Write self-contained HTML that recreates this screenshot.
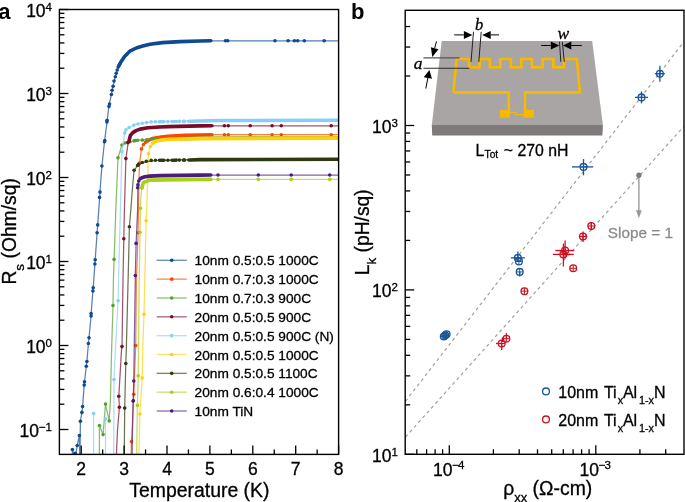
<!DOCTYPE html>
<html><head><meta charset="utf-8"><style>
html,body{margin:0;padding:0;background:#fff;width:685px;height:502px;overflow:hidden;font-family:"Liberation Sans",sans-serif;}
svg{display:block;will-change:transform;}
text{stroke:#000;stroke-width:0.3px;}
</style></head><body>
<svg width="685" height="502" viewBox="0 0 685 502" font-family="Liberation Sans, sans-serif">
<defs><clipPath id="ca"><rect x="59.40" y="9.50" width="279.20" height="444.90"/></clipPath>
<clipPath id="cb"><rect x="405.20" y="10.30" width="278.80" height="444.00"/></clipPath></defs>
<g clip-path="url(#ca)">
<polyline fill="none" stroke="#0d4a8f" stroke-opacity="0.7" stroke-width="1.25" stroke-linejoin="round" points="72.4,460.0 72.4,449.6 75.3,458.0 77.2,445.5 79.4,435.5 79.8,470.0 80.4,421.2 80.4,421.2 81.9,412.4 82.6,406.6 84.2,385.1 84.5,381.8 86.3,366.2 86.9,361.5 88.4,343.5 89.0,337.8 91.1,316.0 91.1,313.6 92.9,291.0 93.2,287.7 94.9,264.0 95.2,259.8 97.1,232.7 97.7,224.9 99.6,198.4 99.9,192.8 101.9,166.0 104.6,140.8 107.2,120.7 109.0,105.3 111.4,94.5 113.1,86.2 115.3,76.7 118.4,66.7 120.7,62.2 124.6,56.4 129.8,51.2 136.3,48.0 142.7,46.0 150.0,44.3 162.3,42.6 200.0,41.0 210.8,40.8 340.6,40.8"/>
<polyline fill="none" stroke="#0d4a8f" stroke-width="3.6" stroke-linecap="round" stroke-linejoin="round" points="118.4,66.7 120.7,62.2 124.6,56.4 129.8,51.2 136.3,48.0 142.7,46.0 150.0,44.3 162.3,42.6 180.0,41.6 200.0,41.0 210.8,40.8"/>
<circle cx="72.4" cy="449.6" r="1.8" fill="#0d4a8f"/>
<circle cx="75.3" cy="453.3" r="1.8" fill="#0d4a8f"/>
<circle cx="77.2" cy="445.5" r="1.8" fill="#0d4a8f"/>
<circle cx="79.4" cy="435.5" r="1.8" fill="#0d4a8f"/>
<circle cx="80.4" cy="421.2" r="1.8" fill="#0d4a8f"/>
<circle cx="81.9" cy="412.4" r="1.8" fill="#0d4a8f"/>
<circle cx="82.6" cy="406.6" r="1.8" fill="#0d4a8f"/>
<circle cx="84.2" cy="385.1" r="1.8" fill="#0d4a8f"/>
<circle cx="84.5" cy="381.8" r="1.8" fill="#0d4a8f"/>
<circle cx="86.3" cy="366.2" r="1.8" fill="#0d4a8f"/>
<circle cx="86.9" cy="361.5" r="1.8" fill="#0d4a8f"/>
<circle cx="88.4" cy="343.5" r="1.8" fill="#0d4a8f"/>
<circle cx="89.0" cy="337.8" r="1.8" fill="#0d4a8f"/>
<circle cx="91.1" cy="316.0" r="1.8" fill="#0d4a8f"/>
<circle cx="91.1" cy="313.6" r="1.8" fill="#0d4a8f"/>
<circle cx="92.9" cy="291.0" r="1.8" fill="#0d4a8f"/>
<circle cx="93.2" cy="287.7" r="1.8" fill="#0d4a8f"/>
<circle cx="94.9" cy="264.0" r="1.8" fill="#0d4a8f"/>
<circle cx="95.2" cy="259.8" r="1.8" fill="#0d4a8f"/>
<circle cx="97.1" cy="232.7" r="1.8" fill="#0d4a8f"/>
<circle cx="97.7" cy="224.9" r="1.8" fill="#0d4a8f"/>
<circle cx="99.5" cy="197.4" r="1.8" fill="#0d4a8f"/>
<circle cx="100.0" cy="192.1" r="1.8" fill="#0d4a8f"/>
<circle cx="101.9" cy="166.0" r="1.8" fill="#0d4a8f"/>
<circle cx="104.5" cy="141.7" r="1.8" fill="#0d4a8f"/>
<circle cx="104.8" cy="140.5" r="1.8" fill="#0d4a8f"/>
<circle cx="106.9" cy="121.9" r="1.8" fill="#0d4a8f"/>
<circle cx="107.1" cy="120.2" r="1.8" fill="#0d4a8f"/>
<circle cx="109.0" cy="106.4" r="1.8" fill="#0d4a8f"/>
<circle cx="109.5" cy="104.0" r="1.8" fill="#0d4a8f"/>
<circle cx="111.4" cy="94.5" r="1.8" fill="#0d4a8f"/>
<circle cx="112.1" cy="90.2" r="1.8" fill="#0d4a8f"/>
<circle cx="113.1" cy="86.2" r="1.8" fill="#0d4a8f"/>
<circle cx="114.0" cy="81.0" r="1.8" fill="#0d4a8f"/>
<circle cx="115.3" cy="76.7" r="1.8" fill="#0d4a8f"/>
<circle cx="116.2" cy="73.2" r="1.8" fill="#0d4a8f"/>
<circle cx="117.2" cy="70.0" r="1.8" fill="#0d4a8f"/>
<circle cx="118.4" cy="66.7" r="1.8" fill="#0d4a8f"/>
<circle cx="119.5" cy="64.3" r="1.8" fill="#0d4a8f"/>
<circle cx="225.5" cy="40.8" r="1.8" fill="#0d4a8f"/>
<circle cx="227.7" cy="40.8" r="1.8" fill="#0d4a8f"/>
<circle cx="275.0" cy="40.8" r="1.8" fill="#0d4a8f"/>
<circle cx="288.1" cy="40.8" r="1.8" fill="#0d4a8f"/>
<circle cx="294.4" cy="40.8" r="1.8" fill="#0d4a8f"/>
<circle cx="297.7" cy="40.8" r="1.8" fill="#0d4a8f"/>
<circle cx="304.3" cy="40.8" r="1.8" fill="#0d4a8f"/>
<circle cx="324.2" cy="40.8" r="1.8" fill="#0d4a8f"/>
<polyline fill="none" stroke="#ff4500" stroke-opacity="0.7" stroke-width="1.25" stroke-linejoin="round" points="131.0,460.0 131.5,441.6 133.8,394.3 135.7,345.6 136.4,280.0 138.1,232.8 139.1,175.0 139.6,163.1 141.5,148.9 143.5,144.5 145.5,142.1 148.7,140.1 152.7,138.5 156.7,137.7 161.5,137.0 168.0,136.2 200.0,135.0 211.9,134.7 340.6,134.7"/>
<polyline fill="none" stroke="#ff4500" stroke-width="3.6" stroke-linecap="round" stroke-linejoin="round" points="145.5,142.1 148.7,140.1 152.7,138.5 156.7,137.7 161.5,137.0 168.0,136.2 185.0,135.4 200.0,135.0 211.9,134.7"/>
<circle cx="131.5" cy="441.6" r="1.8" fill="#ff4500"/>
<circle cx="133.8" cy="394.3" r="1.8" fill="#ff4500"/>
<circle cx="135.7" cy="345.6" r="1.8" fill="#ff4500"/>
<circle cx="138.1" cy="232.8" r="1.8" fill="#ff4500"/>
<circle cx="139.6" cy="163.1" r="1.8" fill="#ff4500"/>
<circle cx="141.5" cy="148.9" r="1.8" fill="#ff4500"/>
<circle cx="143.5" cy="144.5" r="1.8" fill="#ff4500"/>
<circle cx="224.4" cy="134.7" r="1.8" fill="#ff4500"/>
<circle cx="228.3" cy="134.7" r="1.8" fill="#ff4500"/>
<circle cx="250.2" cy="134.7" r="1.8" fill="#ff4500"/>
<circle cx="272.1" cy="134.7" r="1.8" fill="#ff4500"/>
<circle cx="281.3" cy="134.7" r="1.8" fill="#ff4500"/>
<circle cx="331.2" cy="134.7" r="1.8" fill="#ff4500"/>
<polyline fill="none" stroke="#55a02a" stroke-opacity="0.7" stroke-width="1.25" stroke-linejoin="round" points="99.4,460.0 99.4,425.5 103.1,434.6 105.5,404.1 109.2,420.9 110.4,400.0 111.6,350.0 113.0,305.5 113.4,280.0 114.1,259.4 115.8,210.0 118.0,157.8 121.9,145.0 125.1,143.0 129.9,141.9 135.5,140.7 141.9,139.9 149.8,139.3 157.8,138.8 200.0,138.5 340.6,138.5"/>
<polyline fill="none" stroke="#55a02a" stroke-width="3.6" stroke-linecap="round" stroke-linejoin="round" points="182.0,138.6 200.0,138.3 260.0,138.1 340.6,138.0"/>
<circle cx="99.4" cy="425.5" r="1.8" fill="#55a02a"/>
<circle cx="103.1" cy="434.6" r="1.8" fill="#55a02a"/>
<circle cx="105.5" cy="404.1" r="1.8" fill="#55a02a"/>
<circle cx="109.2" cy="420.9" r="1.8" fill="#55a02a"/>
<circle cx="113.0" cy="305.5" r="1.8" fill="#55a02a"/>
<circle cx="114.1" cy="259.4" r="1.8" fill="#55a02a"/>
<circle cx="118.0" cy="157.8" r="1.8" fill="#55a02a"/>
<circle cx="121.9" cy="145.0" r="1.8" fill="#55a02a"/>
<circle cx="125.1" cy="143.0" r="1.8" fill="#55a02a"/>
<circle cx="130.0" cy="141.7" r="1.8" fill="#55a02a"/>
<circle cx="134.0" cy="140.9" r="1.8" fill="#55a02a"/>
<circle cx="135.6" cy="140.5" r="1.8" fill="#55a02a"/>
<circle cx="137.6" cy="140.3" r="1.8" fill="#55a02a"/>
<circle cx="142.3" cy="140.1" r="1.8" fill="#55a02a"/>
<circle cx="146.7" cy="139.7" r="1.8" fill="#55a02a"/>
<circle cx="151.1" cy="139.3" r="1.8" fill="#55a02a"/>
<circle cx="155.5" cy="139.2" r="1.8" fill="#55a02a"/>
<circle cx="160.4" cy="138.9" r="1.8" fill="#55a02a"/>
<circle cx="165.5" cy="138.8" r="1.8" fill="#55a02a"/>
<circle cx="170.5" cy="138.7" r="1.8" fill="#55a02a"/>
<circle cx="175.5" cy="138.6" r="1.8" fill="#55a02a"/>
<circle cx="180.5" cy="138.6" r="1.8" fill="#55a02a"/>
<polyline fill="none" stroke="#7a0a2c" stroke-opacity="0.7" stroke-width="1.25" stroke-linejoin="round" points="116.2,460.0 117.5,430.0 119.4,407.3 118.8,396.2 121.5,350.0 122.0,346.6 123.0,280.0 123.8,238.7 124.4,210.0 125.9,158.6 128.3,141.9 129.9,136.3 133.9,131.5 141.9,128.3 157.8,126.4 200.0,125.8 211.9,125.8 340.6,125.8"/>
<polyline fill="none" stroke="#7a0a2c" stroke-width="3.6" stroke-linecap="round" stroke-linejoin="round" points="127.8,142.5 128.8,141.7 130.4,135.4 132.8,132.6 136.0,130.6 140.0,129.1 147.9,127.8 159.9,127.0 168.0,126.6 200.0,125.9 211.9,125.8"/>
<circle cx="119.4" cy="407.3" r="1.8" fill="#7a0a2c"/>
<circle cx="118.8" cy="396.2" r="1.8" fill="#7a0a2c"/>
<circle cx="122.0" cy="346.6" r="1.8" fill="#7a0a2c"/>
<circle cx="123.8" cy="238.7" r="1.8" fill="#7a0a2c"/>
<circle cx="125.9" cy="158.6" r="1.8" fill="#7a0a2c"/>
<circle cx="224.4" cy="125.8" r="1.8" fill="#7a0a2c"/>
<circle cx="228.3" cy="125.8" r="1.8" fill="#7a0a2c"/>
<circle cx="250.2" cy="125.8" r="1.8" fill="#7a0a2c"/>
<circle cx="272.1" cy="125.8" r="1.8" fill="#7a0a2c"/>
<circle cx="281.3" cy="125.8" r="1.8" fill="#7a0a2c"/>
<circle cx="331.2" cy="125.8" r="1.8" fill="#7a0a2c"/>
<polyline fill="none" stroke="#87cefa" stroke-opacity="0.7" stroke-width="1.25" stroke-linejoin="round" points="93.6,460.0 93.6,413.6 93.6,460.0 105.5,460.0 105.5,418.7 105.5,460.0 113.7,460.0 114.0,379.5 115.4,350.0 118.1,300.7 118.5,280.0 120.4,210.0 121.9,151.7 124.7,133.1 125.9,129.9 129.1,127.5 133.9,125.1 137.9,124.0 142.7,123.1 151.4,121.9 162.6,121.5 181.7,121.2 200.0,120.8 340.6,120.4"/>
<polyline fill="none" stroke="#87cefa" stroke-width="3.6" stroke-linecap="round" stroke-linejoin="round" points="190.5,121.3 220.0,120.5 340.6,120.3"/>
<circle cx="93.6" cy="413.6" r="1.8" fill="#87cefa"/>
<circle cx="105.5" cy="418.7" r="1.8" fill="#87cefa"/>
<circle cx="114.0" cy="379.5" r="1.8" fill="#87cefa"/>
<circle cx="118.1" cy="300.7" r="1.8" fill="#87cefa"/>
<circle cx="121.9" cy="151.7" r="1.8" fill="#87cefa"/>
<circle cx="124.7" cy="133.1" r="1.8" fill="#87cefa"/>
<circle cx="125.9" cy="129.9" r="1.8" fill="#87cefa"/>
<circle cx="129.1" cy="127.5" r="1.8" fill="#87cefa"/>
<circle cx="133.9" cy="125.1" r="1.8" fill="#87cefa"/>
<circle cx="137.9" cy="124.0" r="1.8" fill="#87cefa"/>
<circle cx="142.2" cy="123.3" r="1.8" fill="#87cefa"/>
<circle cx="146.6" cy="122.6" r="1.8" fill="#87cefa"/>
<circle cx="151.2" cy="121.9" r="1.8" fill="#87cefa"/>
<circle cx="155.4" cy="121.8" r="1.8" fill="#87cefa"/>
<circle cx="159.5" cy="121.8" r="1.8" fill="#87cefa"/>
<circle cx="161.0" cy="121.7" r="1.8" fill="#87cefa"/>
<circle cx="162.5" cy="121.7" r="1.8" fill="#87cefa"/>
<circle cx="163.9" cy="121.7" r="1.8" fill="#87cefa"/>
<circle cx="167.9" cy="121.6" r="1.8" fill="#87cefa"/>
<circle cx="172.1" cy="121.6" r="1.8" fill="#87cefa"/>
<circle cx="173.5" cy="121.5" r="1.8" fill="#87cefa"/>
<circle cx="175.0" cy="121.5" r="1.8" fill="#87cefa"/>
<circle cx="176.3" cy="121.5" r="1.8" fill="#87cefa"/>
<circle cx="179.3" cy="121.4" r="1.8" fill="#87cefa"/>
<circle cx="183.5" cy="121.4" r="1.8" fill="#87cefa"/>
<circle cx="184.6" cy="121.4" r="1.8" fill="#87cefa"/>
<circle cx="188.8" cy="121.3" r="1.8" fill="#87cefa"/>
<polyline fill="none" stroke="#fdd20a" stroke-opacity="0.7" stroke-width="1.25" stroke-linejoin="round" points="138.8,460.0 139.8,414.0 142.2,377.9 142.7,350.0 144.0,314.2 144.8,280.0 146.1,220.8 146.7,210.0 147.8,175.0 148.3,154.0 150.4,146.4 153.0,143.5 157.8,141.1 165.7,139.9 200.0,138.7 340.6,138.1"/>
<polyline fill="none" stroke="#fdd20a" stroke-width="3.6" stroke-linecap="round" stroke-linejoin="round" points="152.7,143.3 155.9,141.3 161.5,140.1 168.0,139.3 200.0,138.6 340.6,138.1"/>
<circle cx="139.8" cy="414.0" r="1.8" fill="#fdd20a"/>
<circle cx="142.2" cy="377.9" r="1.8" fill="#fdd20a"/>
<circle cx="144.0" cy="314.2" r="1.8" fill="#fdd20a"/>
<circle cx="146.1" cy="220.8" r="1.8" fill="#fdd20a"/>
<circle cx="148.6" cy="153.7" r="1.8" fill="#fdd20a"/>
<circle cx="150.3" cy="146.5" r="1.8" fill="#fdd20a"/>
<polyline fill="none" stroke="#2c3a0e" stroke-opacity="0.7" stroke-width="1.25" stroke-linejoin="round" points="124.2,460.0 124.7,408.1 125.8,363.5 126.3,350.0 128.1,280.0 129.4,226.7 130.8,210.0 132.3,190.0 134.1,170.3 137.6,165.5 141.6,163.1 148.2,161.3 157.8,160.3 200.0,159.4 340.6,159.3"/>
<polyline fill="none" stroke="#2c3a0e" stroke-width="3.6" stroke-linecap="round" stroke-linejoin="round" points="190.5,160.0 200.0,159.6 340.6,159.3"/>
<circle cx="124.7" cy="408.1" r="1.8" fill="#2c3a0e"/>
<circle cx="125.8" cy="363.5" r="1.8" fill="#2c3a0e"/>
<circle cx="129.4" cy="226.7" r="1.8" fill="#2c3a0e"/>
<circle cx="134.1" cy="170.3" r="1.8" fill="#2c3a0e"/>
<circle cx="137.6" cy="165.5" r="1.8" fill="#2c3a0e"/>
<circle cx="138.4" cy="164.4" r="1.8" fill="#2c3a0e"/>
<circle cx="142.3" cy="162.5" r="1.8" fill="#2c3a0e"/>
<circle cx="146.3" cy="161.3" r="1.8" fill="#2c3a0e"/>
<circle cx="151.2" cy="160.4" r="1.8" fill="#2c3a0e"/>
<circle cx="155.4" cy="160.3" r="1.8" fill="#2c3a0e"/>
<circle cx="159.5" cy="160.3" r="1.8" fill="#2c3a0e"/>
<circle cx="161.0" cy="160.3" r="1.8" fill="#2c3a0e"/>
<circle cx="162.5" cy="160.3" r="1.8" fill="#2c3a0e"/>
<circle cx="163.9" cy="160.3" r="1.8" fill="#2c3a0e"/>
<circle cx="167.9" cy="160.2" r="1.8" fill="#2c3a0e"/>
<circle cx="172.1" cy="160.2" r="1.8" fill="#2c3a0e"/>
<circle cx="173.5" cy="160.2" r="1.8" fill="#2c3a0e"/>
<circle cx="175.0" cy="160.2" r="1.8" fill="#2c3a0e"/>
<circle cx="176.3" cy="160.1" r="1.8" fill="#2c3a0e"/>
<circle cx="179.3" cy="160.1" r="1.8" fill="#2c3a0e"/>
<circle cx="183.5" cy="160.1" r="1.8" fill="#2c3a0e"/>
<circle cx="184.6" cy="160.1" r="1.8" fill="#2c3a0e"/>
<circle cx="188.8" cy="160.0" r="1.8" fill="#2c3a0e"/>
<polyline fill="none" stroke="#a8d018" stroke-opacity="0.7" stroke-width="1.25" stroke-linejoin="round" points="136.6,460.0 137.4,405.4 138.2,375.8 138.4,360.0 139.2,280.0 140.0,232.3 140.4,208.2 141.1,195.0 141.9,188.0 143.4,182.5 149.8,180.1 200.0,179.4 210.8,179.4 340.6,179.4"/>
<polyline fill="none" stroke="#a8d018" stroke-width="3.6" stroke-linecap="round" stroke-linejoin="round" points="141.9,188.0 143.4,182.5 149.8,180.1 200.0,179.4 210.8,179.4"/>
<circle cx="137.4" cy="405.4" r="1.8" fill="#a8d018"/>
<circle cx="138.2" cy="375.8" r="1.8" fill="#a8d018"/>
<circle cx="140.0" cy="232.3" r="1.8" fill="#a8d018"/>
<circle cx="140.4" cy="208.2" r="1.8" fill="#a8d018"/>
<circle cx="141.9" cy="188.0" r="1.8" fill="#a8d018"/>
<circle cx="218.0" cy="179.4" r="1.8" fill="#a8d018"/>
<circle cx="258.3" cy="179.4" r="1.8" fill="#a8d018"/>
<circle cx="291.2" cy="179.4" r="1.8" fill="#a8d018"/>
<circle cx="329.7" cy="179.4" r="1.8" fill="#a8d018"/>
<polyline fill="none" stroke="#4a1c7c" stroke-opacity="0.7" stroke-width="1.25" stroke-linejoin="round" points="132.0,460.0 133.1,401.0 133.8,381.0 134.2,350.0 135.3,280.0 135.3,275.6 136.1,243.4 137.6,210.0 137.9,184.9 138.7,181.0 141.9,177.7 149.8,176.1 200.0,175.0 210.8,175.0 340.6,175.0"/>
<polyline fill="none" stroke="#4a1c7c" stroke-width="3.6" stroke-linecap="round" stroke-linejoin="round" points="140.2,178.8 141.9,177.7 145.0,176.7 149.8,176.1 160.0,175.6 200.0,175.1 210.8,175.0"/>
<circle cx="133.1" cy="401.0" r="1.8" fill="#4a1c7c"/>
<circle cx="133.4" cy="400.7" r="1.8" fill="#4a1c7c"/>
<circle cx="133.8" cy="381.0" r="1.8" fill="#4a1c7c"/>
<circle cx="135.3" cy="275.6" r="1.8" fill="#4a1c7c"/>
<circle cx="136.1" cy="243.4" r="1.8" fill="#4a1c7c"/>
<circle cx="137.6" cy="187.8" r="1.8" fill="#4a1c7c"/>
<circle cx="137.9" cy="184.9" r="1.8" fill="#4a1c7c"/>
<circle cx="138.7" cy="181.0" r="1.8" fill="#4a1c7c"/>
<circle cx="218.0" cy="175.0" r="1.8" fill="#4a1c7c"/>
<circle cx="258.3" cy="175.0" r="1.8" fill="#4a1c7c"/>
<circle cx="291.2" cy="175.0" r="1.8" fill="#4a1c7c"/>
<circle cx="329.7" cy="175.0" r="1.8" fill="#4a1c7c"/>
</g>
<rect x="59.40" y="9.50" width="279.20" height="444.90" fill="none" stroke="#000" stroke-width="1.4"/>
<line x1="81.20" y1="454.40" x2="81.20" y2="445.40" stroke="#000" stroke-width="1.3" />
<text x="81.20" y="474.90" font-size="17.5" text-anchor="middle" fill="#000" >2</text>
<line x1="124.10" y1="454.40" x2="124.10" y2="445.40" stroke="#000" stroke-width="1.3" />
<text x="124.10" y="474.90" font-size="17.5" text-anchor="middle" fill="#000" >3</text>
<line x1="167.00" y1="454.40" x2="167.00" y2="445.40" stroke="#000" stroke-width="1.3" />
<text x="167.00" y="474.90" font-size="17.5" text-anchor="middle" fill="#000" >4</text>
<line x1="209.90" y1="454.40" x2="209.90" y2="445.40" stroke="#000" stroke-width="1.3" />
<text x="209.90" y="474.90" font-size="17.5" text-anchor="middle" fill="#000" >5</text>
<line x1="252.80" y1="454.40" x2="252.80" y2="445.40" stroke="#000" stroke-width="1.3" />
<text x="252.80" y="474.90" font-size="17.5" text-anchor="middle" fill="#000" >6</text>
<line x1="295.70" y1="454.40" x2="295.70" y2="445.40" stroke="#000" stroke-width="1.3" />
<text x="295.70" y="474.90" font-size="17.5" text-anchor="middle" fill="#000" >7</text>
<line x1="338.60" y1="454.40" x2="338.60" y2="445.40" stroke="#000" stroke-width="1.3" />
<text x="338.60" y="474.90" font-size="17.5" text-anchor="middle" fill="#000" >8</text>
<line x1="102.65" y1="454.40" x2="102.65" y2="449.40" stroke="#000" stroke-width="1.3" />
<line x1="145.55" y1="454.40" x2="145.55" y2="449.40" stroke="#000" stroke-width="1.3" />
<line x1="188.45" y1="454.40" x2="188.45" y2="449.40" stroke="#000" stroke-width="1.3" />
<line x1="231.35" y1="454.40" x2="231.35" y2="449.40" stroke="#000" stroke-width="1.3" />
<line x1="274.25" y1="454.40" x2="274.25" y2="449.40" stroke="#000" stroke-width="1.3" />
<line x1="317.15" y1="454.40" x2="317.15" y2="449.40" stroke="#000" stroke-width="1.3" />
<line x1="59.40" y1="429.50" x2="68.40" y2="429.50" stroke="#000" stroke-width="1.3" />
<line x1="59.40" y1="404.21" x2="64.40" y2="404.21" stroke="#000" stroke-width="1.3" />
<line x1="59.40" y1="389.42" x2="64.40" y2="389.42" stroke="#000" stroke-width="1.3" />
<line x1="59.40" y1="378.93" x2="64.40" y2="378.93" stroke="#000" stroke-width="1.3" />
<line x1="59.40" y1="370.79" x2="64.40" y2="370.79" stroke="#000" stroke-width="1.3" />
<line x1="59.40" y1="364.14" x2="64.40" y2="364.14" stroke="#000" stroke-width="1.3" />
<line x1="59.40" y1="358.51" x2="64.40" y2="358.51" stroke="#000" stroke-width="1.3" />
<line x1="59.40" y1="353.64" x2="64.40" y2="353.64" stroke="#000" stroke-width="1.3" />
<line x1="59.40" y1="349.34" x2="64.40" y2="349.34" stroke="#000" stroke-width="1.3" />
<line x1="59.40" y1="345.50" x2="68.40" y2="345.50" stroke="#000" stroke-width="1.3" />
<line x1="59.40" y1="320.21" x2="64.40" y2="320.21" stroke="#000" stroke-width="1.3" />
<line x1="59.40" y1="305.42" x2="64.40" y2="305.42" stroke="#000" stroke-width="1.3" />
<line x1="59.40" y1="294.93" x2="64.40" y2="294.93" stroke="#000" stroke-width="1.3" />
<line x1="59.40" y1="286.79" x2="64.40" y2="286.79" stroke="#000" stroke-width="1.3" />
<line x1="59.40" y1="280.14" x2="64.40" y2="280.14" stroke="#000" stroke-width="1.3" />
<line x1="59.40" y1="274.51" x2="64.40" y2="274.51" stroke="#000" stroke-width="1.3" />
<line x1="59.40" y1="269.64" x2="64.40" y2="269.64" stroke="#000" stroke-width="1.3" />
<line x1="59.40" y1="265.34" x2="64.40" y2="265.34" stroke="#000" stroke-width="1.3" />
<line x1="59.40" y1="261.50" x2="68.40" y2="261.50" stroke="#000" stroke-width="1.3" />
<line x1="59.40" y1="236.21" x2="64.40" y2="236.21" stroke="#000" stroke-width="1.3" />
<line x1="59.40" y1="221.42" x2="64.40" y2="221.42" stroke="#000" stroke-width="1.3" />
<line x1="59.40" y1="210.93" x2="64.40" y2="210.93" stroke="#000" stroke-width="1.3" />
<line x1="59.40" y1="202.79" x2="64.40" y2="202.79" stroke="#000" stroke-width="1.3" />
<line x1="59.40" y1="196.14" x2="64.40" y2="196.14" stroke="#000" stroke-width="1.3" />
<line x1="59.40" y1="190.51" x2="64.40" y2="190.51" stroke="#000" stroke-width="1.3" />
<line x1="59.40" y1="185.64" x2="64.40" y2="185.64" stroke="#000" stroke-width="1.3" />
<line x1="59.40" y1="181.34" x2="64.40" y2="181.34" stroke="#000" stroke-width="1.3" />
<line x1="59.40" y1="177.50" x2="68.40" y2="177.50" stroke="#000" stroke-width="1.3" />
<line x1="59.40" y1="152.21" x2="64.40" y2="152.21" stroke="#000" stroke-width="1.3" />
<line x1="59.40" y1="137.42" x2="64.40" y2="137.42" stroke="#000" stroke-width="1.3" />
<line x1="59.40" y1="126.93" x2="64.40" y2="126.93" stroke="#000" stroke-width="1.3" />
<line x1="59.40" y1="118.79" x2="64.40" y2="118.79" stroke="#000" stroke-width="1.3" />
<line x1="59.40" y1="112.14" x2="64.40" y2="112.14" stroke="#000" stroke-width="1.3" />
<line x1="59.40" y1="106.51" x2="64.40" y2="106.51" stroke="#000" stroke-width="1.3" />
<line x1="59.40" y1="101.64" x2="64.40" y2="101.64" stroke="#000" stroke-width="1.3" />
<line x1="59.40" y1="97.34" x2="64.40" y2="97.34" stroke="#000" stroke-width="1.3" />
<line x1="59.40" y1="93.50" x2="68.40" y2="93.50" stroke="#000" stroke-width="1.3" />
<line x1="59.40" y1="68.21" x2="64.40" y2="68.21" stroke="#000" stroke-width="1.3" />
<line x1="59.40" y1="53.42" x2="64.40" y2="53.42" stroke="#000" stroke-width="1.3" />
<line x1="59.40" y1="42.93" x2="64.40" y2="42.93" stroke="#000" stroke-width="1.3" />
<line x1="59.40" y1="34.79" x2="64.40" y2="34.79" stroke="#000" stroke-width="1.3" />
<line x1="59.40" y1="28.14" x2="64.40" y2="28.14" stroke="#000" stroke-width="1.3" />
<line x1="59.40" y1="22.51" x2="64.40" y2="22.51" stroke="#000" stroke-width="1.3" />
<line x1="59.40" y1="17.64" x2="64.40" y2="17.64" stroke="#000" stroke-width="1.3" />
<line x1="59.40" y1="13.34" x2="64.40" y2="13.34" stroke="#000" stroke-width="1.3" />
<line x1="59.40" y1="9.50" x2="68.40" y2="9.50" stroke="#000" stroke-width="1.3" />
<text x="52.0" y="436.60" font-size="17.5" text-anchor="end">10<tspan dy="-5.9" font-size="11.5">−1</tspan></text>
<text x="52.0" y="352.60" font-size="17.5" text-anchor="end">10<tspan dy="-5.9" font-size="11.5">0</tspan></text>
<text x="52.0" y="268.60" font-size="17.5" text-anchor="end">10<tspan dy="-5.9" font-size="11.5">1</tspan></text>
<text x="52.0" y="184.60" font-size="17.5" text-anchor="end">10<tspan dy="-5.9" font-size="11.5">2</tspan></text>
<text x="52.0" y="100.60" font-size="17.5" text-anchor="end">10<tspan dy="-5.9" font-size="11.5">3</tspan></text>
<text x="52.0" y="16.60" font-size="17.5" text-anchor="end">10<tspan dy="-5.9" font-size="11.5">4</tspan></text>
<text x="199.40" y="496.80" font-size="19.4" text-anchor="middle" fill="#000" >Temperature (K)</text>
<text transform="translate(16.2,231.4) rotate(-90)" font-size="19.3" text-anchor="middle">R<tspan dy="7.5" font-size="13.5">s</tspan><tspan dy="-7.5"> (Ohm/sq)</tspan></text>
<text x="-1.8" y="19.2" font-size="22" font-weight="bold" style="stroke:none">a</text>
<line x1="156.6" y1="260.30" x2="186.8" y2="260.30" stroke="#0d4a8f" stroke-opacity="0.6" stroke-width="1.4"/>
<circle cx="171.7" cy="260.30" r="1.8" fill="#0d4a8f"/>
<text x="194.60" y="265.30" font-size="13.7" text-anchor="start" fill="#000" >10nm 0.5:0.5 1000C</text>
<line x1="156.6" y1="279.14" x2="186.8" y2="279.14" stroke="#ff4500" stroke-opacity="0.6" stroke-width="1.4"/>
<circle cx="171.7" cy="279.14" r="1.8" fill="#ff4500"/>
<text x="194.60" y="284.14" font-size="13.7" text-anchor="start" fill="#000" >10nm 0.7:0.3 1000C</text>
<line x1="156.6" y1="297.98" x2="186.8" y2="297.98" stroke="#55a02a" stroke-opacity="0.6" stroke-width="1.4"/>
<circle cx="171.7" cy="297.98" r="1.8" fill="#55a02a"/>
<text x="194.60" y="302.98" font-size="13.7" text-anchor="start" fill="#000" >10nm 0.7:0.3 900C</text>
<line x1="156.6" y1="316.82" x2="186.8" y2="316.82" stroke="#7a0a2c" stroke-opacity="0.6" stroke-width="1.4"/>
<circle cx="171.7" cy="316.82" r="1.8" fill="#7a0a2c"/>
<text x="194.60" y="321.82" font-size="13.7" text-anchor="start" fill="#000" >20nm 0.5:0.5 900C</text>
<line x1="156.6" y1="335.66" x2="186.8" y2="335.66" stroke="#87cefa" stroke-opacity="0.6" stroke-width="1.4"/>
<circle cx="171.7" cy="335.66" r="1.8" fill="#87cefa"/>
<text x="194.60" y="340.66" font-size="13.7" text-anchor="start" fill="#000" >20nm 0.5:0.5 900C (N)</text>
<line x1="156.6" y1="354.50" x2="186.8" y2="354.50" stroke="#fdd20a" stroke-opacity="0.6" stroke-width="1.4"/>
<circle cx="171.7" cy="354.50" r="1.8" fill="#fdd20a"/>
<text x="194.60" y="359.50" font-size="13.7" text-anchor="start" fill="#000" >20nm 0.5:0.5 1000C</text>
<line x1="156.6" y1="373.34" x2="186.8" y2="373.34" stroke="#2c3a0e" stroke-opacity="0.6" stroke-width="1.4"/>
<circle cx="171.7" cy="373.34" r="1.8" fill="#2c3a0e"/>
<text x="194.60" y="378.34" font-size="13.7" text-anchor="start" fill="#000" >20nm 0.5:0.5 1100C</text>
<line x1="156.6" y1="392.18" x2="186.8" y2="392.18" stroke="#a8d018" stroke-opacity="0.6" stroke-width="1.4"/>
<circle cx="171.7" cy="392.18" r="1.8" fill="#a8d018"/>
<text x="194.60" y="397.18" font-size="13.7" text-anchor="start" fill="#000" >20nm 0.6:0.4 1000C</text>
<line x1="156.6" y1="411.02" x2="186.8" y2="411.02" stroke="#4a1c7c" stroke-opacity="0.6" stroke-width="1.4"/>
<circle cx="171.7" cy="411.02" r="1.8" fill="#4a1c7c"/>
<text x="194.60" y="416.02" font-size="13.7" text-anchor="start" fill="#000" >10nm TiN</text>
<g clip-path="url(#cb)">
<line x1="405.5" y1="401.3" x2="684" y2="41.6" stroke="#a0a0a0" stroke-width="1.2" stroke-dasharray="3.2,3.2"/>
<line x1="405.5" y1="437.0" x2="684" y2="126.2" stroke="#a0a0a0" stroke-width="1.2" stroke-dasharray="3.2,3.2"/>
</g>
<polygon points="441.7,41.1 592.2,41.1 602.9,125.0 431.8,125.0" fill="#a9a5a4"/>
<polygon points="431.8,125.0 602.9,125.0 602.4,135.6 432.2,135.6" fill="#7e7a79"/>
<polyline fill="none" stroke="#f7b900" stroke-width="2.6" stroke-linejoin="miter" points="453.4,92.4 456.6,59.0 469.0,59.0 469.0,67.2 479.6,67.2 479.6,59.0 489.8,59.0 489.8,67.2 500.4,67.2 500.4,59.0 510.9,59.0 510.9,67.2 521.3,67.2 521.3,59.0 531.9,59.0 531.9,67.2 542.6,67.2 542.6,59.0 553.3,59.0 553.3,67.2 564.0,67.2 564.0,59.0 576.8,59.0 579.9,92.4 525.0,92.4 525.0,111.0"/>
<polyline fill="none" stroke="#f7b900" stroke-width="2.6" points="453.4,92.4 508.8,92.4 508.8,111"/>
<rect x="499.7" y="109.9" width="10.3" height="7.8" fill="#f7b900"/>
<rect x="523.8" y="109.9" width="10.2" height="7.8" fill="#f7b900"/>
<polyline fill="none" stroke="#f7b900" stroke-width="1.2" points="509.6,112.4 515.8,112.4 515.8,114.7 524,114.7"/>
<line x1="423.4" y1="57.9" x2="459.5" y2="57.9" stroke="#555" stroke-width="1.2"/>
<line x1="423.4" y1="68.3" x2="469.4" y2="68.3" stroke="#2a2a2a" stroke-width="1.1"/>
<line x1="436.50" y1="41.40" x2="434.65" y2="48.21" stroke="#000" stroke-width="1.0"/>
<polygon points="432.30,56.90 430.89,47.19 438.42,49.23" fill="#000"/>
<line x1="425.80" y1="88.60" x2="427.87" y2="77.95" stroke="#000" stroke-width="1.0"/>
<polygon points="429.40,70.10 431.99,78.75 423.75,77.15" fill="#000"/>
<line x1="473.5" y1="31.8" x2="471" y2="61.9" stroke="#222" stroke-width="1.0"/>
<line x1="481.2" y1="31.8" x2="478.8" y2="61.9" stroke="#222" stroke-width="1.0"/>
<line x1="454.20" y1="34.90" x2="463.90" y2="34.90" stroke="#000" stroke-width="1.0"/>
<polygon points="472.40,34.90 463.90,38.90 463.90,30.90" fill="#000"/>
<line x1="499.00" y1="34.90" x2="490.70" y2="34.90" stroke="#000" stroke-width="1.0"/>
<polygon points="482.20,34.90 490.70,30.90 490.70,38.90" fill="#000"/>
<line x1="559.5" y1="41.7" x2="560.8" y2="61.8" stroke="#222" stroke-width="1.0"/>
<line x1="562.3" y1="41.7" x2="564.3" y2="61.8" stroke="#222" stroke-width="1.0"/>
<line x1="541.20" y1="45.50" x2="550.80" y2="45.50" stroke="#000" stroke-width="1.0"/>
<polygon points="559.30,45.50 550.80,49.50 550.80,41.50" fill="#000"/>
<line x1="581.80" y1="45.50" x2="571.30" y2="45.50" stroke="#000" stroke-width="1.0"/>
<polygon points="562.80,45.50 571.30,41.50 571.30,49.50" fill="#000"/>
<text x="479" y="29.8" font-family="Liberation Serif, serif" font-style="italic" font-size="16.5" text-anchor="middle">b</text>
<text x="563.4" y="38.9" font-family="Liberation Serif, serif" font-style="italic" font-size="17.5" text-anchor="middle">w</text>
<text x="422.6" y="69.2" font-family="Liberation Serif, serif" font-style="italic" font-size="17.5" text-anchor="end">a</text>
<text x="475.5" y="155.5" font-size="15.8">L</text>
<text x="484.6" y="157.6" font-size="10.2">Tot</text>
<text x="568.4" y="155.5" font-size="15.8" text-anchor="end">~ 270 nH</text>
<line x1="638.9" y1="175.2" x2="638.9" y2="211" stroke="#999" stroke-width="1.4"/>
<polygon points="638.9,218.3 636,210.2 641.8,210.2" fill="#999"/>
<circle cx="638.9" cy="175.2" r="2.6" fill="#7a7a7a"/>
<text x="640.40" y="238.30" font-size="15.3" text-anchor="middle" fill="#8c8c8c" style="stroke:#8c8c8c">Slope = 1</text>
<line x1="654.9" y1="73.7" x2="664.9" y2="73.7" stroke="#1a5596" stroke-width="1.3"/>
<line x1="659.9" y1="65.7" x2="659.9" y2="81.7" stroke="#1a5596" stroke-width="1.3"/>
<circle cx="659.9" cy="73.7" r="3.4" fill="none" stroke="#1a5596" stroke-width="1.3"/>
<line x1="656.5" y1="73.7" x2="663.3" y2="73.7" stroke="#1a5596" stroke-width="1.0"/>
<line x1="659.9" y1="70.3" x2="659.9" y2="77.1" stroke="#1a5596" stroke-width="1.0"/>
<line x1="635.0" y1="97.4" x2="648.0" y2="97.4" stroke="#1a5596" stroke-width="1.3"/>
<line x1="641.5" y1="91.4" x2="641.5" y2="103.4" stroke="#1a5596" stroke-width="1.3"/>
<circle cx="641.5" cy="97.4" r="3.4" fill="none" stroke="#1a5596" stroke-width="1.3"/>
<line x1="638.1" y1="97.4" x2="644.9" y2="97.4" stroke="#1a5596" stroke-width="1.0"/>
<line x1="641.5" y1="94.0" x2="641.5" y2="100.8" stroke="#1a5596" stroke-width="1.0"/>
<line x1="572.0" y1="166.9" x2="593.2" y2="166.9" stroke="#1a5596" stroke-width="1.3"/>
<line x1="583.5" y1="159.1" x2="583.5" y2="175.3" stroke="#1a5596" stroke-width="1.3"/>
<circle cx="583.5" cy="166.9" r="3.4" fill="none" stroke="#1a5596" stroke-width="1.3"/>
<line x1="580.1" y1="166.9" x2="586.9" y2="166.9" stroke="#1a5596" stroke-width="1.0"/>
<line x1="583.5" y1="163.5" x2="583.5" y2="170.3" stroke="#1a5596" stroke-width="1.0"/>
<line x1="510.9" y1="257.9" x2="524.9" y2="257.9" stroke="#1a5596" stroke-width="1.3"/>
<line x1="517.9" y1="251.5" x2="517.9" y2="261.9" stroke="#1a5596" stroke-width="1.3"/>
<circle cx="517.9" cy="257.9" r="3.4" fill="none" stroke="#1a5596" stroke-width="1.3"/>
<line x1="514.5" y1="257.9" x2="521.3" y2="257.9" stroke="#1a5596" stroke-width="1.0"/>
<line x1="517.9" y1="254.5" x2="517.9" y2="261.3" stroke="#1a5596" stroke-width="1.0"/>
<circle cx="518.9" cy="261.4" r="3.4" fill="none" stroke="#1a5596" stroke-width="1.3"/>
<line x1="515.5" y1="261.4" x2="522.3" y2="261.4" stroke="#1a5596" stroke-width="1.0"/>
<line x1="518.9" y1="258.0" x2="518.9" y2="264.8" stroke="#1a5596" stroke-width="1.0"/>
<line x1="519.7" y1="271.9" x2="519.7" y2="276.4" stroke="#1a5596" stroke-width="1.3"/>
<circle cx="519.7" cy="271.9" r="3.4" fill="none" stroke="#1a5596" stroke-width="1.3"/>
<line x1="516.3" y1="271.9" x2="523.1" y2="271.9" stroke="#1a5596" stroke-width="1.0"/>
<line x1="519.7" y1="268.5" x2="519.7" y2="275.3" stroke="#1a5596" stroke-width="1.0"/>
<circle cx="443.8" cy="336.5" r="3.4" fill="none" stroke="#1a5596" stroke-width="1.3"/>
<line x1="440.4" y1="336.5" x2="447.2" y2="336.5" stroke="#1a5596" stroke-width="1.0"/>
<line x1="443.8" y1="333.1" x2="443.8" y2="339.9" stroke="#1a5596" stroke-width="1.0"/>
<circle cx="445.2" cy="335.4" r="3.4" fill="none" stroke="#1a5596" stroke-width="1.3"/>
<line x1="441.8" y1="335.4" x2="448.6" y2="335.4" stroke="#1a5596" stroke-width="1.0"/>
<line x1="445.2" y1="332.0" x2="445.2" y2="338.8" stroke="#1a5596" stroke-width="1.0"/>
<circle cx="446.6" cy="334.3" r="3.4" fill="none" stroke="#1a5596" stroke-width="1.3"/>
<line x1="443.2" y1="334.3" x2="450.0" y2="334.3" stroke="#1a5596" stroke-width="1.0"/>
<line x1="446.6" y1="330.9" x2="446.6" y2="337.7" stroke="#1a5596" stroke-width="1.0"/>
<line x1="591.3" y1="221.9" x2="591.3" y2="230.2" stroke="#cc1020" stroke-width="1.3"/>
<circle cx="591.3" cy="226.0" r="3.4" fill="none" stroke="#cc1020" stroke-width="1.3"/>
<line x1="587.9" y1="226.0" x2="594.7" y2="226.0" stroke="#cc1020" stroke-width="1.0"/>
<line x1="591.3" y1="222.6" x2="591.3" y2="229.4" stroke="#cc1020" stroke-width="1.0"/>
<line x1="578.8" y1="236.5" x2="587.4" y2="236.5" stroke="#cc1020" stroke-width="1.3"/>
<line x1="583.0" y1="231.6" x2="583.0" y2="242.1" stroke="#cc1020" stroke-width="1.3"/>
<circle cx="583.0" cy="236.5" r="3.4" fill="none" stroke="#cc1020" stroke-width="1.3"/>
<line x1="579.6" y1="236.5" x2="586.4" y2="236.5" stroke="#cc1020" stroke-width="1.0"/>
<line x1="583.0" y1="233.1" x2="583.0" y2="239.9" stroke="#cc1020" stroke-width="1.0"/>
<line x1="555.3" y1="250.5" x2="574.2" y2="250.5" stroke="#cc1020" stroke-width="1.3"/>
<line x1="565.1" y1="240.4" x2="565.1" y2="258.1" stroke="#cc1020" stroke-width="1.3"/>
<circle cx="565.1" cy="250.5" r="3.4" fill="none" stroke="#cc1020" stroke-width="1.3"/>
<line x1="561.7" y1="250.5" x2="568.5" y2="250.5" stroke="#cc1020" stroke-width="1.0"/>
<line x1="565.1" y1="247.1" x2="565.1" y2="253.9" stroke="#cc1020" stroke-width="1.0"/>
<line x1="552.8" y1="254.4" x2="573.8" y2="254.4" stroke="#cc1020" stroke-width="1.3"/>
<line x1="563.4" y1="243.5" x2="563.4" y2="266.5" stroke="#cc1020" stroke-width="1.3"/>
<circle cx="563.4" cy="254.4" r="3.4" fill="none" stroke="#cc1020" stroke-width="1.3"/>
<line x1="560.0" y1="254.4" x2="566.8" y2="254.4" stroke="#cc1020" stroke-width="1.0"/>
<line x1="563.4" y1="251.0" x2="563.4" y2="257.8" stroke="#cc1020" stroke-width="1.0"/>
<circle cx="573.2" cy="268.3" r="3.4" fill="none" stroke="#cc1020" stroke-width="1.3"/>
<line x1="569.8" y1="268.3" x2="576.6" y2="268.3" stroke="#cc1020" stroke-width="1.0"/>
<line x1="573.2" y1="264.9" x2="573.2" y2="271.7" stroke="#cc1020" stroke-width="1.0"/>
<circle cx="524.4" cy="291.2" r="3.4" fill="none" stroke="#cc1020" stroke-width="1.3"/>
<line x1="521.0" y1="291.2" x2="527.8" y2="291.2" stroke="#cc1020" stroke-width="1.0"/>
<line x1="524.4" y1="287.8" x2="524.4" y2="294.6" stroke="#cc1020" stroke-width="1.0"/>
<line x1="506.4" y1="333.1" x2="506.4" y2="338.7" stroke="#cc1020" stroke-width="1.3"/>
<circle cx="506.4" cy="338.7" r="3.4" fill="none" stroke="#cc1020" stroke-width="1.3"/>
<line x1="503.0" y1="338.7" x2="509.8" y2="338.7" stroke="#cc1020" stroke-width="1.0"/>
<line x1="506.4" y1="335.3" x2="506.4" y2="342.1" stroke="#cc1020" stroke-width="1.0"/>
<rect x="501.7" y="337.5" width="2.4" height="4.6" fill="#cc1020"/>
<line x1="496.0" y1="343.5" x2="501.7" y2="343.5" stroke="#cc1020" stroke-width="1.3"/>
<line x1="501.7" y1="343.5" x2="501.7" y2="350.0" stroke="#cc1020" stroke-width="1.3"/>
<circle cx="501.7" cy="343.5" r="3.4" fill="none" stroke="#cc1020" stroke-width="1.3"/>
<line x1="498.3" y1="343.5" x2="505.1" y2="343.5" stroke="#cc1020" stroke-width="1.0"/>
<line x1="501.7" y1="340.1" x2="501.7" y2="346.9" stroke="#cc1020" stroke-width="1.0"/>
<rect x="405.20" y="10.30" width="278.80" height="444.00" fill="none" stroke="#000" stroke-width="1.4"/>
<line x1="449.30" y1="454.30" x2="449.30" y2="445.30" stroke="#000" stroke-width="1.3" />
<line x1="595.80" y1="454.30" x2="595.80" y2="445.30" stroke="#000" stroke-width="1.3" />
<line x1="416.80" y1="454.30" x2="416.80" y2="449.30" stroke="#000" stroke-width="1.3" />
<line x1="426.61" y1="454.30" x2="426.61" y2="449.30" stroke="#000" stroke-width="1.3" />
<line x1="435.10" y1="454.30" x2="435.10" y2="449.30" stroke="#000" stroke-width="1.3" />
<line x1="442.60" y1="454.30" x2="442.60" y2="449.30" stroke="#000" stroke-width="1.3" />
<line x1="493.40" y1="454.30" x2="493.40" y2="449.30" stroke="#000" stroke-width="1.3" />
<line x1="519.20" y1="454.30" x2="519.20" y2="449.30" stroke="#000" stroke-width="1.3" />
<line x1="537.50" y1="454.30" x2="537.50" y2="449.30" stroke="#000" stroke-width="1.3" />
<line x1="551.70" y1="454.30" x2="551.70" y2="449.30" stroke="#000" stroke-width="1.3" />
<line x1="563.30" y1="454.30" x2="563.30" y2="449.30" stroke="#000" stroke-width="1.3" />
<line x1="573.11" y1="454.30" x2="573.11" y2="449.30" stroke="#000" stroke-width="1.3" />
<line x1="581.60" y1="454.30" x2="581.60" y2="449.30" stroke="#000" stroke-width="1.3" />
<line x1="589.10" y1="454.30" x2="589.10" y2="449.30" stroke="#000" stroke-width="1.3" />
<line x1="639.90" y1="454.30" x2="639.90" y2="449.30" stroke="#000" stroke-width="1.3" />
<line x1="665.70" y1="454.30" x2="665.70" y2="449.30" stroke="#000" stroke-width="1.3" />
<line x1="405.20" y1="454.30" x2="414.20" y2="454.30" stroke="#000" stroke-width="1.3" />
<line x1="405.20" y1="289.90" x2="414.20" y2="289.90" stroke="#000" stroke-width="1.3" />
<line x1="405.20" y1="125.50" x2="414.20" y2="125.50" stroke="#000" stroke-width="1.3" />
<line x1="405.20" y1="404.81" x2="410.20" y2="404.81" stroke="#000" stroke-width="1.3" />
<line x1="405.20" y1="375.86" x2="410.20" y2="375.86" stroke="#000" stroke-width="1.3" />
<line x1="405.20" y1="355.32" x2="410.20" y2="355.32" stroke="#000" stroke-width="1.3" />
<line x1="405.20" y1="339.39" x2="410.20" y2="339.39" stroke="#000" stroke-width="1.3" />
<line x1="405.20" y1="326.37" x2="410.20" y2="326.37" stroke="#000" stroke-width="1.3" />
<line x1="405.20" y1="315.37" x2="410.20" y2="315.37" stroke="#000" stroke-width="1.3" />
<line x1="405.20" y1="305.83" x2="410.20" y2="305.83" stroke="#000" stroke-width="1.3" />
<line x1="405.20" y1="297.42" x2="410.20" y2="297.42" stroke="#000" stroke-width="1.3" />
<line x1="405.20" y1="240.41" x2="410.20" y2="240.41" stroke="#000" stroke-width="1.3" />
<line x1="405.20" y1="211.46" x2="410.20" y2="211.46" stroke="#000" stroke-width="1.3" />
<line x1="405.20" y1="190.92" x2="410.20" y2="190.92" stroke="#000" stroke-width="1.3" />
<line x1="405.20" y1="174.99" x2="410.20" y2="174.99" stroke="#000" stroke-width="1.3" />
<line x1="405.20" y1="161.97" x2="410.20" y2="161.97" stroke="#000" stroke-width="1.3" />
<line x1="405.20" y1="150.97" x2="410.20" y2="150.97" stroke="#000" stroke-width="1.3" />
<line x1="405.20" y1="141.43" x2="410.20" y2="141.43" stroke="#000" stroke-width="1.3" />
<line x1="405.20" y1="133.02" x2="410.20" y2="133.02" stroke="#000" stroke-width="1.3" />
<line x1="405.20" y1="76.01" x2="410.20" y2="76.01" stroke="#000" stroke-width="1.3" />
<line x1="405.20" y1="47.06" x2="410.20" y2="47.06" stroke="#000" stroke-width="1.3" />
<line x1="405.20" y1="26.52" x2="410.20" y2="26.52" stroke="#000" stroke-width="1.3" />
<text x="397.8" y="461.50" font-size="17.5" text-anchor="end">10<tspan dy="-5.9" font-size="11.5">1</tspan></text>
<text x="397.8" y="297.10" font-size="17.5" text-anchor="end">10<tspan dy="-5.9" font-size="11.5">2</tspan></text>
<text x="397.8" y="132.70" font-size="17.5" text-anchor="end">10<tspan dy="-5.9" font-size="11.5">3</tspan></text>
<text x="452.46" y="475.8" font-size="17.5" text-anchor="end">10</text>
<text x="452.24" y="469.0" font-size="11.5">−<tspan dx="-0.9">4</tspan></text>
<text x="598.96" y="475.8" font-size="17.5" text-anchor="end">10</text>
<text x="598.74" y="469.0" font-size="11.5">−<tspan dx="-0.9">3</tspan></text>
<text x="503.2" y="494.6" font-size="19.4">ρ<tspan dy="7.2" font-size="13">xx</tspan><tspan dy="-7.2"> (Ω-cm)</tspan></text>
<text transform="translate(368.7,232.3) rotate(-90)" font-size="19.3" text-anchor="middle">L<tspan dy="7.5" font-size="13.5">k</tspan><tspan dy="-7.5"> (pH/sq)</tspan></text>
<text x="351" y="19.4" font-size="22" font-weight="bold" style="stroke:none">b</text>
<circle cx="546" cy="391.4" r="3.4" fill="none" stroke="#1a5596" stroke-width="1.3"/>
<circle cx="546" cy="419.4" r="3.4" fill="none" stroke="#cc1020" stroke-width="1.3"/>
<text x="558.3" y="398.2" font-size="16">10nm</text>
<text x="603.9" y="398.2" font-size="16">Ti</text>
<text x="617.7" y="403.8" font-size="10.8">x</text>
<text x="622.9" y="398.2" font-size="16">Al</text>
<text x="638.9" y="403.8" font-size="10.8">1-x</text>
<text x="654.0" y="398.2" font-size="16">N</text>
<text x="558.3" y="426.2" font-size="16">20nm</text>
<text x="603.9" y="426.2" font-size="16">Ti</text>
<text x="617.7" y="431.8" font-size="10.8">x</text>
<text x="622.9" y="426.2" font-size="16">Al</text>
<text x="638.9" y="431.8" font-size="10.8">1-x</text>
<text x="654.0" y="426.2" font-size="16">N</text>
</svg>
</body></html>
